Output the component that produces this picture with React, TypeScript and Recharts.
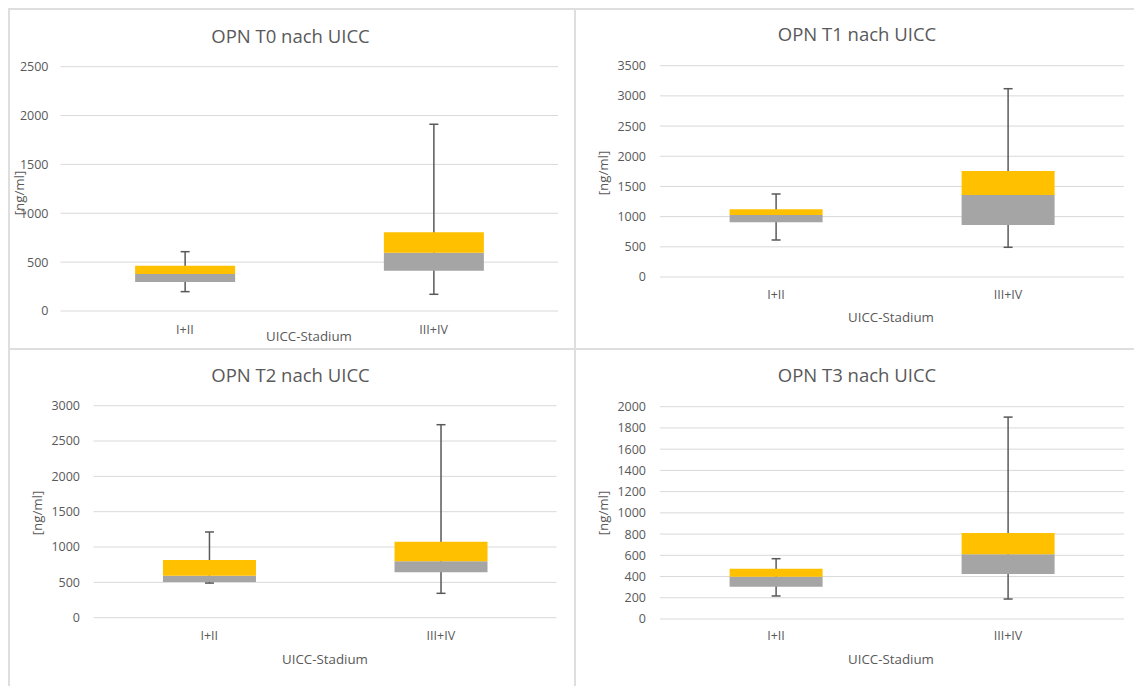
import { BarChart, Bar, XAxis, YAxis, CartesianGrid, ErrorBar } from 'recharts';

const categories = ['I+II', 'III+IV'];

// values: min, Q1, median, Q3, max
const t0Min = [198, 171];
const t0Q1 = [297, 412];
const t0Median = [379, 597];
const t0Q3 = [463, 805];
const t0Max = [607, 1911];
const t0Ticks = [0, 500, 1000, 1500, 2000, 2500];

const t1Min = [613, 492];
const t1Q1 = [906, 861];
const t1Median = [1027, 1358];
const t1Q3 = [1121, 1756];
const t1Max = [1375, 3119];
const t1Ticks = [0, 500, 1000, 1500, 2000, 2500, 3000, 3500];

const t2Min = [490, 345];
const t2Q1 = [505, 642];
const t2Median = [594, 798];
const t2Q3 = [816, 1075];
const t2Max = [1213, 2731];
const t2Ticks = [0, 500, 1000, 1500, 2000, 2500, 3000];

const t3Min = [217, 188];
const t3Q1 = [304, 424];
const t3Median = [398, 609];
const t3Q3 = [474, 810];
const t3Max = [568, 1902];
const t3Ticks = [0, 200, 400, 600, 800, 1000, 1200, 1400, 1600, 1800, 2000];

const TEXT = '#595959';
const GRID = '#d9d9d9';
const FRAME = '#dedede';

function makeRows(mins: number[], q1s: number[], meds: number[], q3s: number[], maxs: number[]) {
  return categories.map((cat, i) => ({
    cat,
    base: q1s[i],
    lowBox: meds[i] - q1s[i],
    highBox: q3s[i] - meds[i],
    whisker: q1s[i],
    range: [q1s[i] - mins[i], maxs[i] - q1s[i]],
  }));
}

function Txt({ x, y, size, text, rotate }: { x: number; y: number; size: number; text: string; rotate?: boolean }) {
  return (
    <div
      style={{
        position: 'absolute',
        left: x,
        top: y,
        transform: `translate(-50%, -50%)${rotate ? ' rotate(-90deg)' : ''}`,
        fontSize: size,
        lineHeight: 1,
        whiteSpace: 'nowrap',
        color: TEXT,
      }}
    >
      {text}
    </div>
  );
}

type PanelProps = {
  title: string;
  rows: ReturnType<typeof makeRows>;
  ticks: number[];
  box: { left: number; top: number; width: number; height: number };
  plot: { x1: number; y1: number; x2: number; y2: number };
  yTickMargin: number;
  xTickMargin: number;
  titlePos: [number, number];
  xTitlePos: [number, number];
  yTitlePos: [number, number];
};

function Panel({ title, rows, ticks, box, plot, yTickMargin, xTickMargin, titlePos, xTitlePos, yTitlePos }: PanelProps) {
  const yMax = ticks[ticks.length - 1];
  const top = plot.y1 - box.top;
  const right = box.left + box.width - plot.x2;
  const bottom = box.top + box.height - plot.y2;
  const left = plot.x1 - box.left;
  const tickStyle = { fill: TEXT, fontSize: 12.5 };

  return (
    <>
      <div style={{ position: 'absolute', left: box.left, top: box.top }}>
        <BarChart
          width={box.width}
          height={box.height}
          data={rows}
          margin={{ top, right, bottom: bottom - 30, left: left - 40 }}
          barCategoryGap="30%"
        >
          <CartesianGrid vertical={false} stroke={GRID} />
          <XAxis
            dataKey="cat"
            axisLine={false}
            tickLine={false}
            tickMargin={xTickMargin}
            tick={tickStyle}
            height={30}
          />
          <YAxis
            domain={[0, yMax]}
            ticks={ticks}
            interval={0}
            width={40}
            axisLine={false}
            tickLine={false}
            tickMargin={yTickMargin}
            tick={tickStyle}
          />
          <Bar dataKey="whisker" fill="none" isAnimationActive={false}>
            <ErrorBar dataKey="range" direction="y" width={4.5} stroke={TEXT} strokeWidth={1.5} />
          </Bar>
        </BarChart>
      </div>
      <div style={{ position: 'absolute', left: box.left, top: box.top, pointerEvents: 'none' }}>
        <BarChart
          width={box.width}
          height={box.height}
          data={rows}
          margin={{ top, right, bottom, left }}
          barCategoryGap="30%"
        >
          <XAxis dataKey="cat" hide />
          <YAxis domain={[0, yMax]} hide />
          <Bar dataKey="base" stackId="box" fill="none" isAnimationActive={false} />
          <Bar dataKey="lowBox" stackId="box" fill="#A5A5A5" isAnimationActive={false} />
          <Bar dataKey="highBox" stackId="box" fill="#FFC000" isAnimationActive={false} />
        </BarChart>
      </div>
      <Txt x={titlePos[0]} y={titlePos[1]} size={18.5} text={title} />
      <Txt x={xTitlePos[0]} y={xTitlePos[1]} size={13.3} text="UICC-Stadium" />
      <Txt x={yTitlePos[0]} y={yTitlePos[1]} size={13.3} text="[ng/ml]" rotate />
    </>
  );
}

export default function App() {
  return (
    <div
      style={{
        position: 'absolute',
        left: 0,
        top: 0,
        width: 1134,
        height: 686,
        background: '#fff',
        fontFamily: '"Open Sans", sans-serif',
        overflow: 'hidden',
      }}
    >
      <div style={{ position: 'absolute', left: 8, top: 7.5, width: 1126, height: 2, background: FRAME }} />
      <div style={{ position: 'absolute', left: 7.5, top: 8, width: 2, height: 678, background: FRAME }} />
      <div style={{ position: 'absolute', left: 573.5, top: 8, width: 2, height: 678, background: FRAME }} />
      <div style={{ position: 'absolute', left: 8, top: 348, width: 1126, height: 2, background: FRAME }} />

      <Panel
        title="OPN T0 nach UICC"
        rows={makeRows(t0Min, t0Q1, t0Median, t0Q3, t0Max)}
        ticks={t0Ticks}
        box={{ left: 10, top: 10, width: 563, height: 338 }}
        plot={{ x1: 60.5, y1: 66.7, x2: 558, y2: 311 }}
        yTickMargin={6}
        xTickMargin={8.6}
        titlePos={[290.5, 36]}
        xTitlePos={[309, 336.7]}
        yTitlePos={[20, 193]}
      />
      <Panel
        title="OPN T1 nach UICC"
        rows={makeRows(t1Min, t1Q1, t1Median, t1Q3, t1Max)}
        ticks={t1Ticks}
        box={{ left: 576, top: 10, width: 558, height: 338 }}
        plot={{ x1: 660, y1: 65.7, x2: 1124, y2: 277 }}
        yTickMargin={8}
        xTickMargin={7.6}
        titlePos={[857, 34.3]}
        xTitlePos={[891, 317.5]}
        yTitlePos={[604, 173]}
      />
      <Panel
        title="OPN T2 nach UICC"
        rows={makeRows(t2Min, t2Q1, t2Median, t2Q3, t2Max)}
        ticks={t2Ticks}
        box={{ left: 10, top: 350, width: 563, height: 336 }}
        plot={{ x1: 93.5, y1: 405.7, x2: 556.6, y2: 617.7 }}
        yTickMargin={7.5}
        xTickMargin={7.9}
        titlePos={[290.5, 374.7]}
        xTitlePos={[325, 659.5]}
        yTitlePos={[37.6, 513]}
      />
      <Panel
        title="OPN T3 nach UICC"
        rows={makeRows(t3Min, t3Q1, t3Median, t3Q3, t3Max)}
        ticks={t3Ticks}
        box={{ left: 576, top: 350, width: 558, height: 336 }}
        plot={{ x1: 660, y1: 406.7, x2: 1124, y2: 619 }}
        yTickMargin={8}
        xTickMargin={6.6}
        titlePos={[857, 374.7]}
        xTitlePos={[891, 659.6]}
        yTitlePos={[604, 513]}
      />
    </div>
  );
}
